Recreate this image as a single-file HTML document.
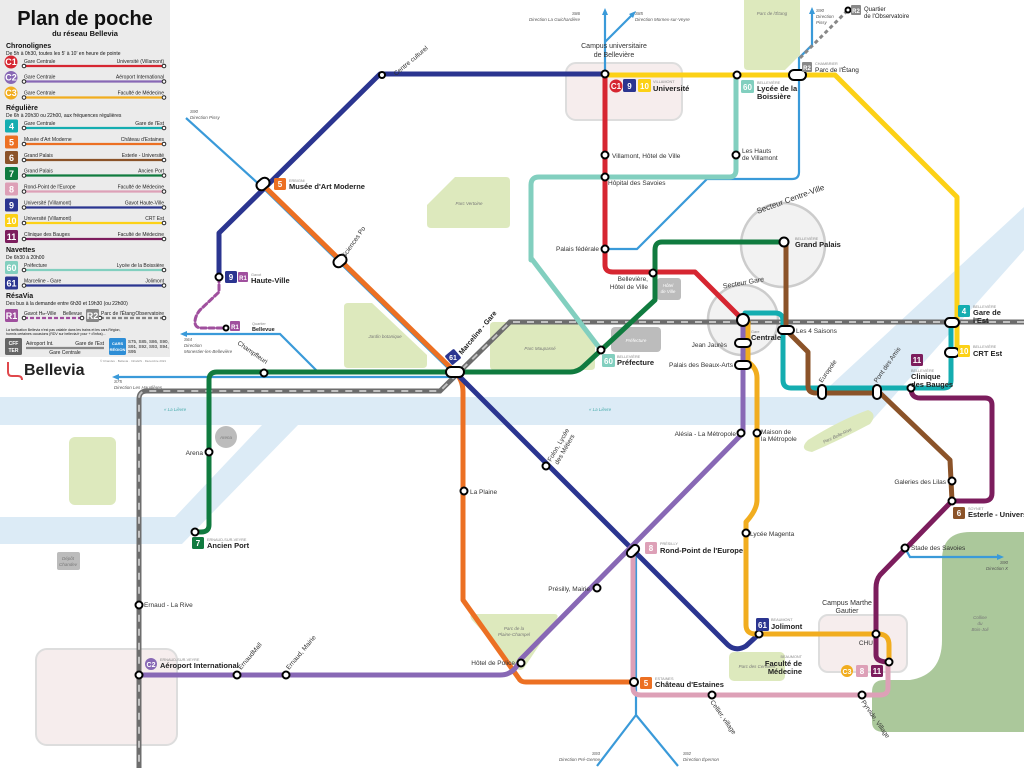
<!DOCTYPE html>
<html><head><meta charset="utf-8"><style>
html,body{margin:0;padding:0;background:#fff}
svg{display:block;font-family:"Liberation Sans",Arial,sans-serif}
</style></head><body>
<svg width="1024" height="768" viewBox="0 0 1024 768" xmlns="http://www.w3.org/2000/svg">
<rect width="1024" height="768" fill="#fff"/>
<!-- water -->
<g fill="#dcebf6">
<polygon points="0,397 818,397 1024,207 1024,250 868,425 0,425"/>
<polygon points="0,517 175,517 262,425 298,425 182,544 0,544"/>
</g>
<!-- parks -->
<g fill="#dde9bd">
<path d="M455,177 L506,177 Q510,177 510,181 L510,224 Q510,228 506,228 L431,228 Q427,228 427,224 L427,205 Z"/>
<path d="M348,303 L372,303 L427,355 L427,364 Q427,368 423,368 L348,368 Q344,368 344,364 L344,307 Q344,303 348,303Z"/>
<path d="M494,322 L580,322 L595,340 L595,366 Q595,370 591,370 L494,370 Q490,370 490,366 L490,326 Q490,322 494,322Z"/>
<path d="M748,0 L800,0 L800,55 L785,70 L748,70 Q744,70 744,66 L744,0Z"/>
<path d="M474,614 L554,614 Q560,614 556,620 L524,668 Q520,672 516,668 L472,620 Q468,614 474,614Z"/>
<rect x="729" y="652" width="56" height="29" rx="5"/>
<rect x="69" y="437" width="47" height="68" rx="6"/>
<path d="M808,440 Q840,420 868,410 Q878,414 870,424 Q840,440 812,452 Q798,450 808,440Z"/>
</g>
<path d="M942,560 Q942,532 970,532 L1024,532 L1024,732 L884,732 Q872,732 872,722 L872,692 Q872,680 884,680 L910,680 Q942,675 942,640Z" fill="#abc89b"/>
<!-- campus areas -->
<g fill="#f6eded" stroke="#ddd" stroke-width="2">
<rect x="566" y="63" width="116" height="57" rx="10"/>
<rect x="819" y="615" width="88" height="57" rx="9"/>
<rect x="36" y="649" width="141" height="96" rx="11"/>
</g>
<circle cx="783" cy="245" r="42" fill="#f2f2f2" stroke="#ccc" stroke-width="2.5"/>
<circle cx="743" cy="320" r="35" fill="#f2f2f2" stroke="#ccc" stroke-width="2.5"/>
<g fill="#bcbcbc">
<rect x="657" y="278" width="24" height="22" rx="3"/>
<rect x="611" y="327" width="50" height="25" rx="4"/>
<circle cx="226" cy="437" r="11"/>
<rect x="57" y="552" width="23" height="18" rx="2"/>
</g>
<!-- rail -->
<path d="M1024,322 L510,322 L440,391 L147,391 Q139,391 139,399 L139,768" fill="none" stroke="#6d6d6d" stroke-width="5"/>
<path d="M1024,322 L510,322 L440,391 L147,391 Q139,391 139,399 L139,768" fill="none" stroke="#c2c2c2" stroke-width="2" stroke-dasharray="7,7"/>
<!-- bus lines -->
<g fill="none" stroke="#3a9ad9" stroke-width="2.2">
<path d="M605,74 L605,14 M605,42 L632,15"/>
<path d="M799,74 L799,172 Q799,179 792,179 L707,179 L637,249 L605,249"/>
<path d="M799,74 L799,58 L812,45 L812,12"/>
<path d="M186,118 L262,187 L455,375"/>
<path d="M455,377 L118,377"/>
<path d="M186,334 L280,334 L318,372"/>
<path d="M636,551 L636,715 L597,766 M636,715 L678,766"/>
<path d="M905,548 L910,557 L998,557"/>
</g>
<g fill="#3a9ad9"><polygon points="605,8 602,15 608,15"/><polygon points="636,11 629,14 633,18"/><polygon points="812,7 809,14 815,14"/><polygon points="112,377 119,374 119,380"/><polygon points="180,334 187,331 187,337"/><polygon points="1004,557 997,554 997,560"/></g>
<path d="M800,58 L848,10" stroke="#888" stroke-width="3" stroke-dasharray="4,3" fill="none"/>
<!-- lines -->
<g fill="none" stroke-width="5" stroke-linejoin="round" stroke-linecap="round">
<path d="M531,260 L531,185 Q531,177 539,177 L729,177 Q736,177 736,170 L736,75" stroke="#82cfbf"/>
<path d="M531,258 L601,350" stroke="#82cfbf"/>
<path d="M605,75 L835,75 L957,197 L957,352" stroke="#fcd116"/>
<path d="M219,277 L219,233 L380,74 L605,74" stroke="#2b3590"/>
<path d="M605,74 L605,265 Q605,272 613,272 L695,272 L743,320" stroke="#d62631"/>
<path d="M263,185 L455,372 Q463,380 463,392 L463,600 L520,680 Q522,682 526,682 L633,682" stroke="#ec7023"/>
<path d="M783,242 L662,242 Q655,242 655,250 L655,300 L584,366 Q578,372 570,372 L217,372 Q209,372 209,380 L209,525 Q209,532 201,532 L195,532" stroke="#107b3f"/>
<path d="M455,372 L728,645 Q736,652 746,646 L759,634" stroke="#2b3590"/>
<path d="M743,320 L743,433 L520,660 Q514,675 500,675 L139,675" stroke="#8868b5"/>
<path d="M748,322 L748,362 Q757,368 757,378 L757,500 Q757,510 746,522 L746,625 Q746,634 756,634 L878,634 Q889,634 889,645 L889,662" stroke="#f1ad1f"/>
<path d="M633,551 L633,688 Q633,695 641,695 L880,695 Q888,695 888,688 L888,662" stroke="#dda0b7"/>
<path d="M745,313 L775,313 Q783,313 783,321 L783,380 Q783,388 791,388 L944,388 Q951,388 951,380 L951,322" stroke="#14adb0"/>
<path d="M786,242 L786,330 L808,352 L808,386 Q808,393 816,393 L880,393 L950,460 L952,501" stroke="#8b5329"/>
<path d="M911,388 Q911,398 920,398 L985,398 Q992,398 992,405 L992,493 Q992,501 984,501 L952,501 L880,575 Q876,580 876,588 L876,655 Q876,662 889,662" stroke="#7c1d5d"/>
<path d="M219,277 L219,292 L200,310 Q195,316 195,322 Q195,328 202,328 L226,328" stroke="#a0509e" stroke-width="3" stroke-dasharray="5,3"/>
</g>
<!-- stations -->
<g fill="#fff" stroke="#000" stroke-width="2">
<circle cx="605" cy="74" r="3.5"/><circle cx="737" cy="75" r="3.5"/><rect x="789" y="70" width="17" height="10" rx="5"/>
<circle cx="605" cy="155" r="3.5"/><circle cx="605" cy="177" r="3.5"/><circle cx="736" cy="155" r="3.5"/><circle cx="605" cy="249" r="3.5"/>
<circle cx="653" cy="273" r="3.5"/><circle cx="784" cy="242" r="4.5"/><circle cx="382" cy="75" r="3"/>
<rect x="256" y="179" width="14" height="10" rx="5" transform="rotate(-40 263 184)"/>
<rect x="333" y="256" width="14" height="10" rx="5" transform="rotate(-40 340 261)"/>
<circle cx="219" cy="277" r="3.5"/><circle cx="226" cy="328" r="2.5"/>
<rect x="446" y="367" width="18" height="10" rx="5"/><circle cx="264" cy="373" r="3.5"/><circle cx="601" cy="350" r="3.5"/>
<circle cx="743" cy="320" r="6"/>
<rect x="735" y="339" width="16" height="8" rx="4"/><rect x="735" y="361" width="16" height="8" rx="4"/>
<rect x="778" y="326" width="16" height="8" rx="4"/>
<rect x="818" y="385" width="8" height="14" rx="4"/><rect x="873" y="385" width="8" height="14" rx="4"/><circle cx="911" cy="388" r="3.5"/>
<rect x="945" y="318" width="14" height="9" rx="4.5"/><rect x="945" y="348" width="14" height="9" rx="4.5"/>
<circle cx="741" cy="433" r="3.5"/><circle cx="757" cy="433" r="3.5"/><circle cx="546" cy="466" r="3.5"/><circle cx="464" cy="491" r="3.5"/>
<rect x="626" y="547" width="14" height="8" rx="4" transform="rotate(-45 633 551)"/>
<circle cx="597" cy="588" r="3.5"/><circle cx="521" cy="663" r="3.5"/><circle cx="746" cy="533" r="3.5"/>
<circle cx="759" cy="634" r="3.5"/><circle cx="876" cy="634" r="3.5"/><circle cx="889" cy="662" r="3.5"/>
<circle cx="634" cy="682" r="4"/><circle cx="712" cy="695" r="3.5"/><circle cx="862" cy="695" r="3.5"/>
<circle cx="952" cy="481" r="3.5"/><circle cx="952" cy="501" r="3.5"/><circle cx="905" cy="548" r="3.5"/>
<circle cx="209" cy="452" r="3.5"/><circle cx="195" cy="532" r="3.5"/><circle cx="139" cy="605" r="3.5"/>
<circle cx="139" cy="675" r="3.5"/><circle cx="237" cy="675" r="3.5"/><circle cx="286" cy="675" r="3.5"/>
<circle cx="848" cy="10" r="2.5"/>
</g>
<!-- labels -->
<g font-size="6.5" fill="#333">
<text x="612" y="158">Villamont, Hôtel de Ville</text>
<text x="608" y="185">Hôpital des Savoies</text>
<text x="742" y="153">Les Hauts</text><text x="742" y="160">de Villamont</text>
<text x="599" y="251" text-anchor="end">Palais fédérale</text>
<text x="648" y="281" text-anchor="end">Bellevière,</text><text x="648" y="289" text-anchor="end">Hôtel de Ville</text>
<text x="727" y="347" text-anchor="end">Jean Jaurès</text>
<text x="733" y="367" text-anchor="end">Palais des Beaux-Arts</text>
<text x="796" y="333">Les 4 Saisons</text>
<text x="736" y="436" text-anchor="end">Alésia - La Métropole</text>
<text x="761" y="434">Maison de</text><text x="761" y="441">la Métropole</text>
<text x="470" y="494">La Plaine</text>
<text x="750" y="536">Lycée Magenta</text>
<text x="590" y="591" text-anchor="end">Présilly, Mairie</text>
<text x="515" y="665" text-anchor="end">Hôtel de Police</text>
<text x="144" y="607">Ernaud - La Rive</text>
<text x="203" y="455" text-anchor="end">Arena</text>
<text x="946" y="484" text-anchor="end">Galeries des Lilas</text>
<text x="911" y="550">Stade des Savoies</text>
<text x="873" y="645" text-anchor="end">CHU</text>
<text x="614" y="48" text-anchor="middle" font-size="7">Campus universitaire</text><text x="614" y="57" text-anchor="middle" font-size="7">de Bellevière</text>
<text x="847" y="605" text-anchor="middle" font-size="7">Campus Marthe</text><text x="847" y="613" text-anchor="middle" font-size="7">Gautier</text>
<text transform="translate(396,76) rotate(-40)">Centre culturel</text>
<text transform="translate(345,258) rotate(-55)">Sciences Po</text>
<text transform="translate(237,344) rotate(35)">Champfleuri</text>
<text transform="translate(551,462) rotate(-60)">Folon, Lycée</text><text transform="translate(558,465) rotate(-60)">des Métiers</text>
<text transform="translate(241,670) rotate(-50)">ErnaudMall</text>
<text transform="translate(289,670) rotate(-50)">Ernaud, Mairie</text>
<text transform="translate(710,702) rotate(55)">Cellier, village</text>
<text transform="translate(861,702) rotate(55)">Pyrvide, Village</text>
<text transform="translate(822,383) rotate(-55)">Europole</text>
<text transform="translate(877,383) rotate(-55)">Pont des Amis</text>
<text x="758" y="205" font-size="8" transform="rotate(-20 783 210)">Secteur Centre-Ville</text>
<text x="723" y="285" font-size="7" transform="rotate(-10 743 285)">Secteur Gare</text>
</g>
<g font-size="4.5" fill="#777" font-style="italic" text-anchor="middle">
<text x="469" y="205">Parc Vertoine</text><text x="385" y="338">Jardin botanique</text><text x="540" y="350">Parc Maupassé</text>
<text x="772" y="15">Parc de l'Étang</text><text x="514" y="630">Parc de la</text><text x="514" y="636">Plaine-Champel</text>
<text x="757" y="668">Parc des Cerisiers</text><text x="838" y="437" transform="rotate(-25 838 437)">Parc Belle-Rive</text>
<text x="980" y="619">Colline</text><text x="980" y="625">du</text><text x="980" y="631">Bois-Joli</text>
<text x="668" y="287" fill="#fff">Hôtel</text><text x="668" y="293" fill="#fff">de Ville</text>
<text x="636" y="342" fill="#fff">Préfecture</text><text x="226" y="439">Arena</text>
<text x="68" y="560">Dépôt</text><text x="68" y="566">Chandev</text>
<text x="175" y="411" fill="#4aa">« La Lièvre</text><text x="600" y="411" fill="#4aa">« La Lièvre</text>
</g>
<g font-size="4.5" fill="#555" font-style="italic">
<text x="580" y="15" text-anchor="end">S86</text><text x="580" y="21" text-anchor="end">Direction La Guichardière</text>
<text x="635" y="15">S85</text><text x="635" y="21">Direction Mornex-sur-Veyre</text>
<text x="816" y="12">S90</text><text x="816" y="18">Direction</text><text x="816" y="24">Pissy</text>
<text x="190" y="113">S90</text><text x="190" y="119">Direction Pissy</text>
<text x="184" y="341">S64</text><text x="184" y="347">Direction</text><text x="184" y="353">Monestier-les-Bellevière</text>
<text x="114" y="383">S75</text><text x="114" y="389">Direction Les Haudières</text>
<text x="1008" y="564" text-anchor="end">S90</text><text x="1008" y="570" text-anchor="end">Direction X</text>
<text x="600" y="755" text-anchor="end">S93</text><text x="600" y="761" text-anchor="end">Direction Pré-Genne</text>
<text x="683" y="755">S92</text><text x="683" y="761">Direction Épernon</text>
</g>
<!-- badges on map -->
<g font-weight="bold" font-size="8" text-anchor="middle" fill="#fff">
<circle cx="616" cy="86" r="6.5" fill="#d62631"/><text x="616" y="89">C1</text>
<rect x="623" y="79" width="13" height="13" rx="1.5" fill="#2b3590"/><text x="629.5" y="89">9</text>
<rect x="638" y="79" width="13" height="13" rx="1.5" fill="#fcd116"/><text x="644.5" y="89">10</text>
<rect x="741" y="80" width="13" height="13" rx="1.5" fill="#82cfbf"/><text x="747.5" y="90">60</text>
<rect x="802" y="62" width="10" height="10" rx="1" fill="#888"/><text x="807" y="70" font-size="6">R2</text>
<rect x="851" y="5" width="10" height="10" rx="1" fill="#888"/><text x="856" y="13" font-size="6">R2</text>
<rect x="274" y="178" width="12" height="12" rx="1.5" fill="#ec7023"/><text x="280" y="187">5</text>
<rect x="225" y="271" width="12" height="12" rx="1.5" fill="#2b3590"/><text x="231" y="280">9</text>
<rect x="238" y="272" width="10" height="10" rx="1" fill="#a0509e"/><text x="243" y="280" font-size="6">R1</text>
<rect x="230" y="321" width="10" height="10" rx="1" fill="#a0509e"/><text x="235" y="329" font-size="6">R1</text>
<rect x="447" y="351" width="12" height="12" rx="1.5" fill="#2b3590" transform="rotate(-40 453 357)"/><text x="453" y="360" font-size="7">61</text>
<rect x="602" y="354" width="13" height="13" rx="1.5" fill="#82cfbf"/><text x="608.5" y="364">60</text>
<rect x="911" y="354" width="12" height="12" rx="1.5" fill="#7c1d5d"/><text x="917" y="363">11</text>
<rect x="958" y="305" width="12" height="12" rx="1.5" fill="#14adb0"/><text x="964" y="314">4</text>
<rect x="958" y="345" width="12" height="12" rx="1.5" fill="#fcd116"/><text x="964" y="354">10</text>
<rect x="953" y="507" width="12" height="12" rx="1.5" fill="#8b5329"/><text x="959" y="516">6</text>
<rect x="645" y="542" width="12" height="12" rx="1.5" fill="#dda0b7"/><text x="651" y="551">8</text>
<rect x="756" y="618" width="13" height="13" rx="1.5" fill="#2b3590"/><text x="762.5" y="628">61</text>
<rect x="640" y="677" width="12" height="12" rx="1.5" fill="#ec7023"/><text x="646" y="686">5</text>
<circle cx="847" cy="671" r="6" fill="#f1ad1f"/><text x="847" y="674" font-size="7">C3</text>
<rect x="856" y="665" width="12" height="12" rx="1.5" fill="#dda0b7"/><text x="862" y="674">8</text>
<rect x="871" y="665" width="12" height="12" rx="1.5" fill="#7c1d5d"/><text x="877" y="674">11</text>
<rect x="192" y="537" width="12" height="12" rx="1.5" fill="#107b3f"/><text x="198" y="546">7</text>
<circle cx="151" cy="664" r="6" fill="#8868b5"/><text x="151" y="667" font-size="7">C2</text>
</g>
<g fill="#222">
<g font-size="3.8" fill="#888"><text x="653" y="83">VILLAMONT</text><text x="757" y="84">BELLEVIÈRE</text><text x="815" y="65">CHAMBRIER</text><text x="289" y="182">ERBIGNI</text><text x="251" y="276">Gavot</text><text x="252" y="325">Quartier</text><text x="795" y="240">BELLEVIÈRE</text><text x="751" y="333">Gare</text><text x="617" y="358">BELLEVIÈRE</text><text x="973" y="308">BELLEVIÈRE</text><text x="973" y="348">BELLEVIÈRE</text><text x="911" y="372">BELLEVIÈRE</text><text x="968" y="510">SOYNET</text><text x="660" y="545">PRÉSILLY</text><text x="771" y="621">BEAUMONT</text><text x="655" y="680">ESTAINES</text><text x="207" y="541">ERNAUD-SUR-VEYRE</text><text x="160" y="661">ERNAUD-SUR-VEYRE</text><text x="802" y="658" text-anchor="end">BEAUMONT</text></g>
<g font-size="7.5" font-weight="bold">
<text x="653" y="91">Université</text><text x="757" y="91">Lycée de la</text><text x="757" y="99">Boissière</text>
<text x="815" y="72" font-weight="normal" font-size="6.5">Parc de l'Étang</text>
<text x="864" y="11" font-weight="normal" font-size="6">Quartier</text><text x="864" y="18" font-weight="normal" font-size="6">de l'Observatoire</text>
<text x="289" y="189">Musée d'Art Moderne</text><text x="251" y="283">Haute-Ville</text>
<text x="252" y="331" font-size="5.5">Bellevue</text>
<text x="795" y="247">Grand Palais</text><text x="751" y="340">Centrale</text>
<text x="617" y="365">Préfecture</text><text x="973" y="315">Gare de</text><text x="973" y="323">l'Est</text>
<text x="973" y="356">CRT Est</text><text x="911" y="379">Clinique</text><text x="911" y="387">des Bauges</text>
<text x="968" y="517">Esterle - Université</text><text x="660" y="553">Rond-Point de l'Europe</text>
<text x="771" y="629">Jolimont</text><text x="655" y="687">Château d'Estaines</text>
<text x="207" y="548">Ancien Port</text><text x="160" y="668">Aéroport International</text>
<text x="802" y="666" text-anchor="end">Faculté de</text><text x="802" y="674" text-anchor="end">Médecine</text>
<text transform="translate(462,355) rotate(-50)" font-size="7">Marceline - Gare</text>
</g></g>
<!-- legend -->
<rect x="0" y="0" width="170" height="357" fill="#ebebeb"/>
<g fill="#111">
<text x="85" y="25" font-size="20" font-weight="bold" text-anchor="middle">Plan de poche</text>
<text x="85" y="36" font-size="7.5" font-weight="bold" text-anchor="middle">du réseau Bellevia</text>
<text x="6" y="48" font-size="7" font-weight="bold">Chronolignes</text>
<text x="6" y="55" font-size="5">De 5h à 0h30, toutes les 5' à 10' en heure de pointe</text>
<text x="6" y="110" font-size="7" font-weight="bold">Régulière</text>
<text x="6" y="117" font-size="5">De 6h à 20h30 ou 22h00, aux fréquences régulières</text>
<text x="6" y="252" font-size="7" font-weight="bold">Navettes</text>
<text x="6" y="259" font-size="5">De 6h30 à 20h00</text>
<text x="6" y="298" font-size="7" font-weight="bold">RésaVia</text>
<text x="6" y="305" font-size="5">Des bus à la demande entre 6h30 et 19h30 (ou 22h00)</text>
<text x="6" y="331" font-size="3.5">La tarification Bellevia n'est pas valable dans les trains et les cars Région,</text>
<text x="6" y="335" font-size="3.5">hormis certaines occasions (RDV sur bellevia.fr pour + d'infos)...</text>
</g>
<g font-size="5" fill="#222">
<g stroke-width="2.2"><line x1="24" y1="66" x2="164" y2="66" stroke="#d62631"/><line x1="24" y1="81.5" x2="164" y2="81.5" stroke="#8868b5"/><line x1="24" y1="97.5" x2="164" y2="97.5" stroke="#f1ad1f"/>
<line x1="24" y1="128" x2="164" y2="128" stroke="#14adb0"/><line x1="24" y1="144" x2="164" y2="144" stroke="#ec7023"/><line x1="24" y1="160" x2="164" y2="160" stroke="#8b5329"/><line x1="24" y1="175.5" x2="164" y2="175.5" stroke="#107b3f"/><line x1="24" y1="191.5" x2="164" y2="191.5" stroke="#dda0b7"/><line x1="24" y1="207.5" x2="164" y2="207.5" stroke="#2b3590"/><line x1="24" y1="223" x2="164" y2="223" stroke="#fcd116"/><line x1="24" y1="239" x2="164" y2="239" stroke="#7c1d5d"/>
<line x1="24" y1="270" x2="164" y2="270" stroke="#82cfbf"/><line x1="24" y1="285.5" x2="164" y2="285.5" stroke="#2b3590"/>
<line x1="24" y1="318" x2="82" y2="318" stroke="#a0509e" stroke-dasharray="4,2"/><line x1="100" y1="318" x2="164" y2="318" stroke="#888" stroke-dasharray="4,2"/>
<line x1="26" y1="348" x2="104" y2="348" stroke="#888"/></g>
<g fill="#fff" stroke="#222" stroke-width="1"><circle cx="24" cy="66" r="1.8"/><circle cx="164" cy="66" r="1.8"/><circle cx="24" cy="81.5" r="1.8"/><circle cx="164" cy="81.5" r="1.8"/><circle cx="24" cy="97.5" r="1.8"/><circle cx="164" cy="97.5" r="1.8"/><circle cx="24" cy="128" r="1.8"/><circle cx="164" cy="128" r="1.8"/><circle cx="24" cy="144" r="1.8"/><circle cx="164" cy="144" r="1.8"/><circle cx="24" cy="160" r="1.8"/><circle cx="164" cy="160" r="1.8"/><circle cx="24" cy="175.5" r="1.8"/><circle cx="164" cy="175.5" r="1.8"/><circle cx="24" cy="191.5" r="1.8"/><circle cx="164" cy="191.5" r="1.8"/><circle cx="24" cy="207.5" r="1.8"/><circle cx="164" cy="207.5" r="1.8"/><circle cx="24" cy="223" r="1.8"/><circle cx="164" cy="223" r="1.8"/><circle cx="24" cy="239" r="1.8"/><circle cx="164" cy="239" r="1.8"/><circle cx="24" cy="270" r="1.8"/><circle cx="164" cy="270" r="1.8"/><circle cx="24" cy="285.5" r="1.8"/><circle cx="164" cy="285.5" r="1.8"/><circle cx="24" cy="318" r="1.8"/><circle cx="82" cy="318" r="1.8"/><circle cx="100" cy="318" r="1.8"/><circle cx="164" cy="318" r="1.8"/></g>
<text x="24" y="63">Gare Centrale</text><text x="164" y="63" text-anchor="end">Université (Villamont)</text>
<text x="24" y="78.5">Gare Centrale</text><text x="164" y="78.5" text-anchor="end">Aéroport International</text>
<text x="24" y="94.5">Gare Centrale</text><text x="164" y="94.5" text-anchor="end">Faculté de Médecine</text>
<text x="24" y="125">Gare Centrale</text><text x="164" y="125" text-anchor="end">Gare de l'Est</text>
<text x="24" y="141">Musée d'Art Moderne</text><text x="164" y="141" text-anchor="end">Château d'Estaines</text>
<text x="24" y="157">Grand Palais</text><text x="164" y="157" text-anchor="end">Esterle - Université</text>
<text x="24" y="172.5">Grand Palais</text><text x="164" y="172.5" text-anchor="end">Ancien Port</text>
<text x="24" y="188.5">Rond-Point de l'Europe</text><text x="164" y="188.5" text-anchor="end">Faculté de Médecine</text>
<text x="24" y="204.5">Université (Villamont)</text><text x="164" y="204.5" text-anchor="end">Gavot Haute-Ville</text>
<text x="24" y="220">Université (Villamont)</text><text x="164" y="220" text-anchor="end">CRT Est</text>
<text x="24" y="236">Clinique des Bauges</text><text x="164" y="236" text-anchor="end">Faculté de Médecine</text>
<text x="24" y="267">Préfecture</text><text x="164" y="267" text-anchor="end">Lycée de la Boissière</text>
<text x="24" y="282.5">Marceline - Gare</text><text x="164" y="282.5" text-anchor="end">Jolimont</text>
<text x="24" y="315">Gavot H<tspan font-size="3.5">te</tspan>-Ville</text><text x="82" y="315" text-anchor="end">Bellevue</text>
<text x="101" y="315">Parc de l'Étang</text><text x="164" y="315" text-anchor="end">Observatoire</text>
<text x="26" y="345">Aéroport Int.</text><text x="104" y="345" text-anchor="end">Gare de l'Est</text><text x="65" y="354" text-anchor="middle">Gare Centrale</text>
<text x="128" y="343" font-size="4.5">S75, S85, S86, S90,</text><text x="128" y="348" font-size="4.5">S91, S92, S93, S94,</text><text x="128" y="353" font-size="4.5">S95</text>
</g>
<g font-weight="bold" text-anchor="middle" fill="#fff" font-size="9">
<circle cx="11" cy="62" r="6.5" fill="#d62631"/><text x="11" y="65">C1</text>
<circle cx="11" cy="77.5" r="6.5" fill="#8868b5"/><text x="11" y="80.5">C2</text>
<circle cx="11" cy="93" r="6.5" fill="#f1ad1f"/><text x="11" y="96">C3</text>
<rect x="5" y="119.5" width="13" height="13" rx="1.5" fill="#14adb0"/><text x="11.5" y="129.5">4</text>
<rect x="5" y="135.5" width="13" height="13" rx="1.5" fill="#ec7023"/><text x="11.5" y="145.5">5</text>
<rect x="5" y="151" width="13" height="13" rx="1.5" fill="#8b5329"/><text x="11.5" y="161">6</text>
<rect x="5" y="167" width="13" height="13" rx="1.5" fill="#107b3f"/><text x="11.5" y="177">7</text>
<rect x="5" y="182.5" width="13" height="13" rx="1.5" fill="#dda0b7"/><text x="11.5" y="192.5">8</text>
<rect x="5" y="198.5" width="13" height="13" rx="1.5" fill="#2b3590"/><text x="11.5" y="208.5">9</text>
<rect x="5" y="214" width="13" height="13" rx="1.5" fill="#fcd116"/><text x="11.5" y="224">10</text>
<rect x="5" y="230" width="13" height="13" rx="1.5" fill="#7c1d5d"/><text x="11.5" y="240">11</text>
<rect x="5" y="261" width="13" height="13" rx="1.5" fill="#82cfbf"/><text x="11.5" y="271">60</text>
<rect x="5" y="276.5" width="13" height="13" rx="1.5" fill="#2b3590"/><text x="11.5" y="286.5">61</text>
<rect x="5" y="309" width="13" height="13" rx="1.5" fill="#a0509e"/><text x="11.5" y="319">R1</text>
<rect x="86" y="309" width="13" height="13" rx="1.5" fill="#888"/><text x="92.5" y="319">R2</text>
<rect x="5" y="338" width="17" height="17" rx="1.5" fill="#666"/><text x="13.5" y="345" font-size="5">CFF</text><text x="13.5" y="352" font-size="5">TER</text>
<rect x="109" y="338" width="17" height="17" rx="1.5" fill="#2e8ed6"/><text x="117.5" y="345" font-size="4">CARS</text><text x="117.5" y="351" font-size="4">RÉGION</text>
</g>
<path d="M8,362 L8,372 Q8,376 12,376 L18,376 Q22,376 22,380" fill="none" stroke="#e0484c" stroke-width="2"/>
<text x="24" y="375" font-size="16" font-weight="bold" fill="#222">Bellevia</text>
<text x="100" y="362" font-size="3" fill="#888">© Chandev · Bellevia · InfraGIS · Décembre 2021</text>
</svg>
</body></html>
